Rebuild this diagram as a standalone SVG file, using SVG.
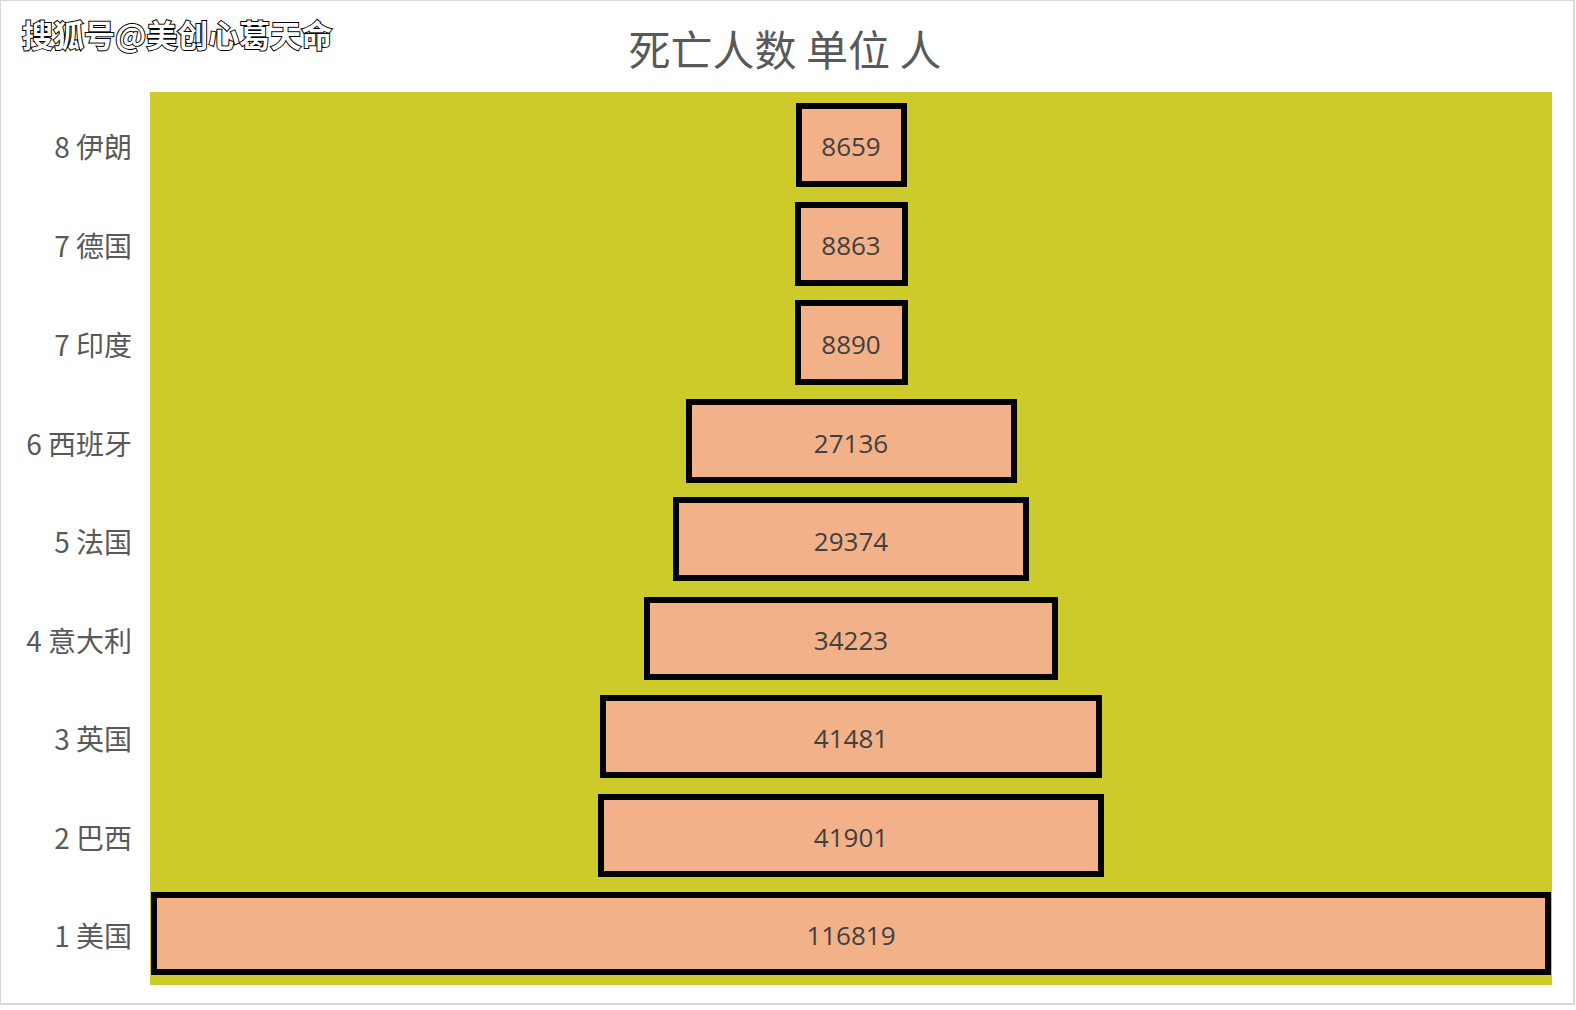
<svg xmlns="http://www.w3.org/2000/svg" width="1576" height="1010" viewBox="0 0 1576 1010">
<style>
.bar{fill:#F2B189;stroke:#000;stroke-width:6}
.v{font-family:"Open Sans","Noto Sans CJK SC",sans-serif;font-size:26px;fill:#404040;text-anchor:middle;dominant-baseline:central}
.l{font-family:"Noto Sans CJK SC",sans-serif;font-size:28px;fill:#595959;text-anchor:end;dominant-baseline:central}
</style>
<rect width="1576" height="1010" fill="#fff"/>
<rect x="0" y="0" width="1574" height="1004" fill="none" stroke="#d9d9d9" stroke-width="2"/>
<text x="785" y="47" font-family="Noto Sans CJK SC,sans-serif" font-size="42" fill="#595959" text-anchor="middle" dominant-baseline="central">死亡人数 单位 人</text>
<text x="22" y="33" font-family="Noto Sans CJK SC,sans-serif" font-size="31" font-weight="bold" fill="#fff" stroke="#000" stroke-width="2" paint-order="stroke" dominant-baseline="central">搜狐号@美创心葛天命</text>
<rect id="plot" x="150" y="92" width="1402" height="893" fill="#CDCB2B"/>
<g id="labels">
<text class="l" x="132" y="146">8 伊朗</text>
<text class="l" x="132" y="245">7 德国</text>
<text class="l" x="132" y="344">7 印度</text>
<text class="l" x="132" y="443">6 西班牙</text>
<text class="l" x="132" y="541">5 法国</text>
<text class="l" x="132" y="640">4 意大利</text>
<text class="l" x="132" y="738">3 英国</text>
<text class="l" x="132" y="837">2 巴西</text>
<text class="l" x="132" y="935">1 美国</text>
</g>
<g id="bar8"><rect class="bar" x="799" y="106" width="105" height="78"/><text class="v" x="851" y="146">8659</text></g>
<g id="bar7a"><rect class="bar" x="798" y="205" width="107" height="78"/><text class="v" x="851" y="245">8863</text></g>
<g id="bar7b"><rect class="bar" x="798" y="303" width="107" height="79"/><text class="v" x="851" y="344">8890</text></g>
<g id="bar6"><rect class="bar" x="689" y="402" width="325" height="78"/><text class="v" x="851" y="443">27136</text></g>
<g id="bar5"><rect class="bar" x="676" y="500" width="350" height="78"/><text class="v" x="851" y="541">29374</text></g>
<g id="bar4"><rect class="bar" x="647" y="600" width="408" height="77"/><text class="v" x="851" y="640">34223</text></g>
<g id="bar3"><rect class="bar" x="603" y="698" width="496" height="77"/><text class="v" x="851" y="738">41481</text></g>
<g id="bar2"><rect class="bar" x="601" y="797" width="500" height="77"/><text class="v" x="851" y="837">41901</text></g>
<g id="bar1"><rect class="bar" x="154" y="895" width="1394" height="77"/><text class="v" x="851" y="935">116819</text></g>
</svg>
